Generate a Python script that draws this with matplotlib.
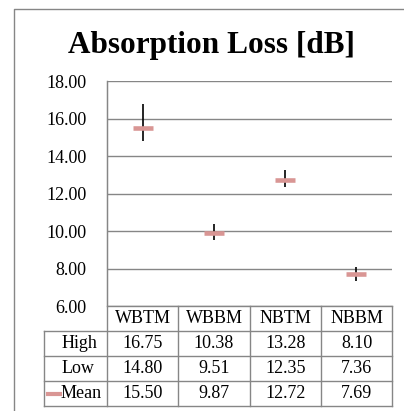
import matplotlib
matplotlib.use("Agg")
import matplotlib.pyplot as plt

categories = ["WBTM", "WBBM", "NBTM", "NBBM"]
high = [16.75, 10.38, 13.28, 8.10]
low = [14.80, 9.51, 12.35, 7.36]
mean = [15.50, 9.87, 12.72, 7.69]
yticks = [6, 8, 10, 12, 14, 16, 18]

W, H = 404, 411
grid_c = "#868686"
mean_c = "#D99694"
fs = 13
plt.rcParams["font.family"] = ["Liberation Serif", "DejaVu Serif"]

fig = plt.figure(figsize=(W / 100, H / 100), dpi=100)

# overlay in pixel coords for frame + table
bg = fig.add_axes([0, 0, 1, 1])
bg.set_xlim(0, W)
bg.set_ylim(H, 0)
bg.axis("off")

# plot area (pixels)
left, right, top, bottom = 107, 392, 81, 306
ax = fig.add_axes([left / W, (H - bottom) / H, (right - left) / W, (bottom - top) / H])
ax.set_xlim(0, len(categories))
ax.set_ylim(6, 18)
ax.set_yticks(yticks)
ax.set_yticklabels([f"{v:.2f}" for v in yticks], fontsize=fs)
ax.set_xticks([])
ax.tick_params(axis="y", length=0, pad=15)
for s in ["top", "right", "bottom"]:
    ax.spines[s].set_visible(False)
ax.spines["left"].set_color(grid_c)
ax.grid(axis="y", color=grid_c, linewidth=1)
ax.set_axisbelow(True)
ax.patch.set_alpha(0)

xs = [i + 0.5 for i in range(len(categories))]
ax.vlines(xs, low, high, color="black", linewidth=1.2)
ax.plot(xs, mean, linestyle="none", marker="_", markersize=14, mew=3.3, color=mean_c)

# outer frame
bg.plot([14, 14, W], [H, 9, 9], color=grid_c, linewidth=1)

fig.text(212 / W, 1 - 45 / H, "Absorption Loss [dB]", ha="center", va="center",
         fontsize=22.5, fontweight="bold")

# data table
col_x = [107, 178, 250, 321, 392]
row_y = [306, 331, 356, 381, 406]
tab_l = 44
for y in row_y:
    x0 = col_x[0] if y == row_y[0] else tab_l
    bg.plot([x0, col_x[-1]], [y, y], color=grid_c, linewidth=1)
for x in col_x:
    bg.plot([x, x], [row_y[0] if x != col_x[0] else top, row_y[-1]], color=grid_c, linewidth=1)
bg.plot([tab_l, tab_l], [row_y[1], row_y[-1]], color=grid_c, linewidth=1)

def cy(i):
    return (row_y[i] + row_y[i + 1]) / 2

for j, c in enumerate(categories):
    cx = (col_x[j] + col_x[j + 1]) / 2
    bg.text(cx, cy(0), c, ha="center", va="center", fontsize=fs)
    for i, vals in enumerate([high, low, mean]):
        bg.text(cx, cy(i + 1), f"{vals[j]:.2f}", ha="center", va="center", fontsize=fs)

bg.text(79, cy(1), "High", ha="center", va="center", fontsize=fs)
bg.text(78, cy(2), "Low", ha="center", va="center", fontsize=fs)
bg.plot([48, 60], [cy(3), cy(3)], color=mean_c, linewidth=3)
bg.text(61, cy(3), "Mean", ha="left", va="center", fontsize=fs)

fig.savefig("out.png", dpi=100)
